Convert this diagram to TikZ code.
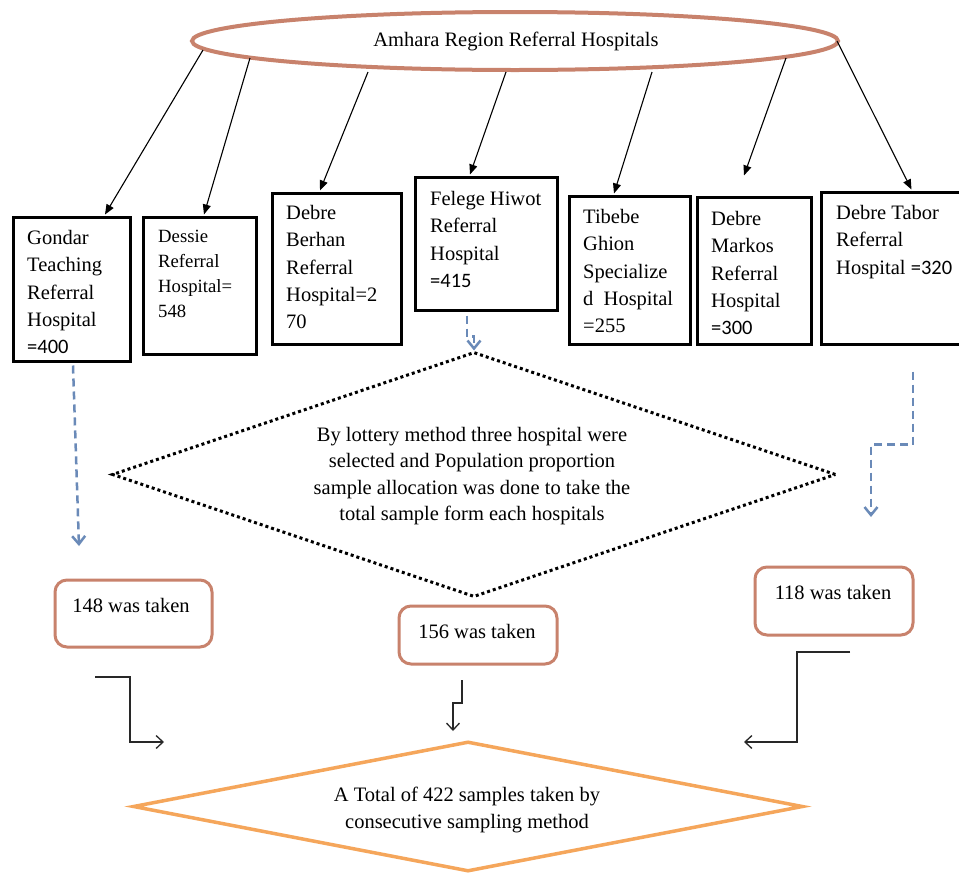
\documentclass[tikz,border=0pt]{standalone}
\usepackage{fontspec}
\setmainfont{Liberation Serif}
\newfontfamily\calfont{Carlito}
\usetikzlibrary{arrows.meta,shapes.geometric,calc}
\definecolor{brn}{RGB}{200,130,108}
\definecolor{blu}{RGB}{106,138,184}
\definecolor{org}{RGB}{245,166,91}
\definecolor{dk}{RGB}{40,40,40}
\begin{document}
\begin{tikzpicture}[x=1pt,y=-1pt,
  hbox/.style={draw=black,line width=3pt,inner sep=0pt},
  rbox/.style={draw=brn,line width=3pt,rounded corners=12pt,inner sep=0pt},
  txt/.style={inner sep=0pt,align=left,font=\fontsize{20.5}{27.3}\selectfont},
  stxt/.style={inner sep=0pt,align=left,font=\fontsize{18.7}{25}\selectfont},
  ctxt/.style={inner sep=0pt,align=center,font=\fontsize{20.5}{26.5}\selectfont},
  toparr/.style={draw=black,line width=1.1pt,-{Triangle[length=10pt,width=8pt]}},
  bluarr/.style={draw=blu,line width=2.5pt,dash pattern=on 8pt off 5pt,-{Straight Barb[length=8pt,width=13pt,line width=2.5pt]}},
  blkarr/.style={draw=dk,line width=1.3pt,-{Straight Barb[length=7pt,width=13pt,line width=1.3pt]}}
]
\clip (0,0) rectangle (959,873);
\fill[white] (0,0) rectangle (959,873);

% top ellipse
\node[ellipse,draw=brn,line width=4pt,minimum width=646pt,minimum height=58pt,inner sep=0pt] (top) at (515,41) {};
\node[ctxt] (toptxt) at (516,41) {Amhara Region Referral Hospitals};

% hospital boxes
\node[hbox,minimum width=117pt,minimum height=144pt] (g) at (71.5,289) {};
\node[hbox,minimum width=113pt,minimum height=137pt] (d) at (199.5,285.5) {};
\node[hbox,minimum width=129pt,minimum height=151pt] (b) at (336.5,268.5) {};
\node[hbox,minimum width=142pt,minimum height=133pt] (f) at (486,243.5) {};
\node[hbox,minimum width=121pt,minimum height=148pt] (t) at (629.5,270) {};
\node[hbox,minimum width=114pt,minimum height=147pt] (m) at (754,270.5) {};
\node[hbox,minimum width=145pt,minimum height=152pt] (r) at (893.5,268) {};

\node[txt,anchor=north west] (gt) at (27,230) {Gondar\\Teaching\\Referral\\Hospital\\{\calfont =400}};
\node[stxt,anchor=north west] (dt) at (158,230) {Dessie\\Referral\\Hospital=\\548};
\node[txt,anchor=north west] (bt) at (286,205) {Debre\\Berhan\\Referral\\Hospital=2\\70};
\node[txt,anchor=north west] (ft) at (430,191) {Felege Hiwot\\Referral\\Hospital\\{\calfont =415}};
\node[txt,anchor=north west] (tt) at (583,209) {Tibebe\\Ghion\\Specialize\\d\ \ Hospital\\=255};
\node[txt,anchor=north west] (mt) at (711,211) {Debre\\Markos\\Referral\\Hospital\\{\calfont =300}};
\node[txt,anchor=north west] (rt) at (836,205) {Debre Tabor\\Referral\\Hospital {\calfont =320}};

% arrows from ellipse
\draw[toparr] ($(top.center)+(-312,9)$) -- ([xshift=33.5pt,yshift=1pt]g.north);
\draw[toparr] ($(top.center)+(-265,17)$) -- ([xshift=4.5pt,yshift=1pt]d.north);
\draw[toparr] ($(top.center)+(-147,31)$) -- ([xshift=-16.5pt,yshift=1pt]b.north);
\draw[toparr] ($(top.center)+(-9,31)$) -- ([xshift=-16pt,yshift=1pt]f.north);
\draw[toparr] ($(top.center)+(137,31)$) -- ([xshift=-15.5pt,yshift=1pt]t.north);
\draw[toparr] ($(top.center)+(271,17)$) -- ([xshift=-10pt,yshift=20pt]m.north);
\draw[toparr] ($(top.center)+(322,0)$) -- ([xshift=18pt,yshift=1pt]r.north);

% dotted diamond
\node[diamond,draw=black,line width=3pt,dash pattern=on 3pt off 3pt,minimum width=724pt,minimum height=245pt,inner sep=0pt] (dia) at (474,474.5) {};
\node[ctxt] (diat) at (472,476) {By lottery method three hospital were\\selected and Population proportion\\sample allocation was done to take the\\total sample form each hospitals};

% blue dashed arrows
\coordinate (gA) at (79,546);
\coordinate (rA) at (871,517);
\draw[bluarr] ([xshift=1.5pt,yshift=-3pt]g.south) -- (gA);
\draw[bluarr] ([xshift=-19pt,yshift=-4pt]f.south) -- ++(0,21) -| (dia.north);
\draw[bluarr] ([xshift=19.5pt,yshift=-26pt]r.south) -- ++(0,73) -| (rA);

% rounded result boxes
\node[rbox,minimum width=157pt,minimum height=67pt] (s1) at (133.5,613.5) {};
\node[rbox,minimum width=158pt,minimum height=58pt] (s2) at (478,635) {};
\node[rbox,minimum width=158pt,minimum height=68pt] (s3) at (834,601) {};
\node[ctxt] (s1t) at (131,605) {148 was taken};
\node[ctxt] (s2t) at (477,631) {156 was taken};
\node[ctxt] (s3t) at (833,592) {118 was taken};

% black bent arrows
\coordinate (l0) at (95,677);
\coordinate (l1) at (164,742);
\coordinate (c0) at (462,680);
\coordinate (c1) at (453,731);
\coordinate (q0) at (850,652);
\coordinate (q1) at (744,742);
\draw[blkarr] (l0) -- (130,677) |- (l1);
\draw[blkarr] (c0) -- (462,703) -| (c1);
\draw[blkarr] (q0) -- (797,652) |- (q1);

% bottom orange diamond
\node[diamond,draw=org,line width=3.5pt,minimum width=670pt,minimum height=130pt,inner sep=0pt] (fin) at (468,806.5) {};
\node[ctxt] (fint) at (467,810) {A Total of 422 samples taken by\\consecutive sampling method};
\end{tikzpicture}
\end{document}
